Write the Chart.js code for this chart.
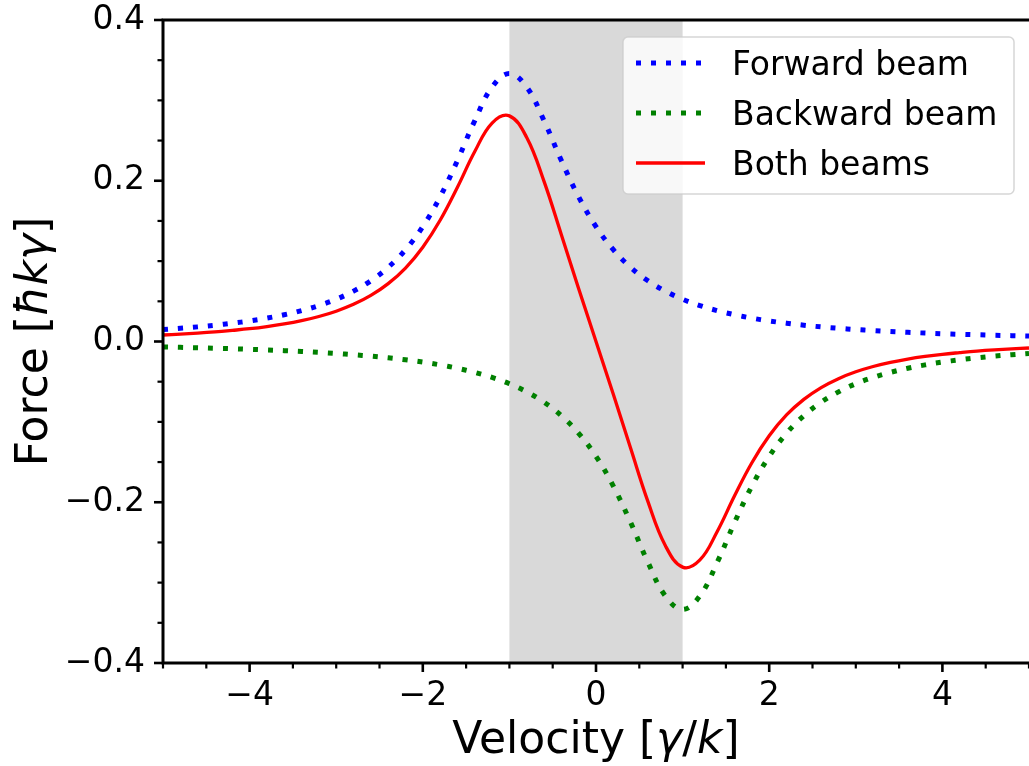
<!DOCTYPE html>
<html>
<head>
<meta charset="utf-8">
<title>Force vs velocity</title>
<script src="https://cdn.jsdelivr.net/npm/chart.js@4/dist/chart.umd.min.js"></script>
<style>
  html, body { margin: 0; padding: 0; background: #ffffff; overflow: hidden; }
  #chartWrap { width: 1029px; height: 766px; }
</style>
</head>
<body>
<div id="chartWrap"><canvas id="forceChart" width="1029" height="766"></canvas></div>
<script>
// ====================================
// DATA
// ====================================
const velocity = [
  -5, -4.8, -4.6, -4.4, -4.2, -4, -3.8, -3.6, -3.4, -3.2,
  -3, -2.8, -2.6, -2.4, -2.2, -2, -1.8, -1.6, -1.4, -1.2,
  -1, -0.8, -0.6, -0.4, -0.2, 0, 0.2, 0.4, 0.6, 0.8,
  1, 1.2, 1.4, 1.6, 1.8, 2, 2.2, 2.4, 2.6, 2.8,
  3, 3.2, 3.4, 3.6, 3.8, 4, 4.2, 4.4, 4.6, 4.8, 5
];
const forwardBeam = [
  0.0149, 0.0165, 0.0182, 0.0203, 0.0228, 0.0256, 0.0291, 0.0333, 0.0384, 0.0447,
  0.0526, 0.0627, 0.0755, 0.0923, 0.1142, 0.1429, 0.1799, 0.2252, 0.2747, 0.3165,
  0.3333, 0.3165, 0.2747, 0.2252, 0.1799, 0.1429, 0.1142, 0.0923, 0.0755, 0.0627,
  0.0526, 0.0447, 0.0384, 0.0333, 0.0291, 0.0256, 0.0228, 0.0203, 0.0182, 0.0165,
  0.0149, 0.0136, 0.0124, 0.0114, 0.0105, 0.0097, 0.0090, 0.0084, 0.0078, 0.0073, 0.0068
];
const backwardBeam = [
  -0.0068, -0.0073, -0.0078, -0.0084, -0.0090, -0.0097, -0.0105, -0.0114, -0.0124, -0.0136,
  -0.0149, -0.0165, -0.0182, -0.0203, -0.0228, -0.0256, -0.0291, -0.0333, -0.0384, -0.0447,
  -0.0526, -0.0627, -0.0755, -0.0923, -0.1142, -0.1429, -0.1799, -0.2252, -0.2747, -0.3165,
  -0.3333, -0.3165, -0.2747, -0.2252, -0.1799, -0.1429, -0.1142, -0.0923, -0.0755, -0.0627,
  -0.0526, -0.0447, -0.0384, -0.0333, -0.0291, -0.0256, -0.0228, -0.0203, -0.0182, -0.0165, -0.0149
];
const bothBeams = [
  0.0081, 0.0092, 0.0104, 0.0119, 0.0138, 0.0159, 0.0186, 0.0219, 0.0260, 0.0311,
  0.0377, 0.0462, 0.0573, 0.0720, 0.0914, 0.1173, 0.1508, 0.1919, 0.2363, 0.2718,
  0.2807, 0.2538, 0.1992, 0.1329, 0.0657, 0, -0.0657, -0.1329, -0.1992, -0.2538,
  -0.2807, -0.2718, -0.2363, -0.1919, -0.1508, -0.1173, -0.0914, -0.0720, -0.0573, -0.0462,
  -0.0377, -0.0311, -0.0260, -0.0219, -0.0186, -0.0159, -0.0138, -0.0119, -0.0104, -0.0092, -0.0081
];
const xMajorTicks = [-4, -2, 0, 2, 4];
const yMajorTicks = [-0.4, -0.2, 0, 0.2, 0.4];
const shadedBand = [-1, 1];

const FONT = "'DejaVu Sans', 'Liberation Sans', sans-serif";

function toPoints(values) {
  return velocity.map(function (v, i) {
    return { x: v, y: values[i] };
  });
}

function isMajor(value, majors) {
  return majors.some(function (m) {
    return Math.abs(m - value) < 1e-6;
  });
}

function fmt(value, digits) {
  const s = Math.abs(value).toFixed(digits);
  return value < -1e-9 ? "\u2212" + s : s;
}

// keep the plot box where the reference has it
function pinScale(size, isX) {
  return function (scale) {
    if (isX) scale.height = size;
    else scale.width = size;
    scale.paddingTop = 0;
    scale.paddingBottom = 0;
    scale.paddingLeft = 0;
    scale.paddingRight = 0;
  };
}

// ====================================
// DECORATIONS: band, spines, ticks, titles, legend
// ====================================
function drawRich(ctx, parts, x, y, size) {
  let total = 0;
  parts.forEach(function (p) {
    ctx.font = (p[1] ? "oblique " : "") + size + "px " + FONT;
    total += ctx.measureText(p[0]).width;
  });
  let cx = x - total / 2;
  ctx.textAlign = "left";
  ctx.textBaseline = "alphabetic";
  parts.forEach(function (p) {
    ctx.font = (p[1] ? "oblique " : "") + size + "px " + FONT;
    ctx.fillText(p[0], cx, y);
    cx += ctx.measureText(p[0]).width;
  });
}

const decorPlugin = {
  id: "decor",
  beforeDatasetsDraw(chart) {
    const { ctx, chartArea, scales } = chart;
    const x0 = scales.x.getPixelForValue(shadedBand[0]);
    const x1 = scales.x.getPixelForValue(shadedBand[1]);
    ctx.save();
    ctx.fillStyle = "#d9d9d9";
    ctx.fillRect(x0, chartArea.top, x1 - x0, chartArea.bottom - chartArea.top);
    ctx.restore();
  },
  afterDraw(chart) {
    const { ctx, chartArea, scales } = chart;
    const { left, right, top, bottom } = chartArea;
    ctx.save();

    // spines (right one falls off the canvas in the reference)
    ctx.strokeStyle = "#000000";
    ctx.lineWidth = 3;
    ctx.lineCap = "square";
    ctx.beginPath();
    ctx.moveTo(right + 4, top);
    ctx.lineTo(left, top);
    ctx.lineTo(left, bottom);
    ctx.lineTo(right + 4, bottom);
    ctx.stroke();

    // tick marks, major and minor
    ctx.lineCap = "butt";
    scales.x.ticks.forEach(function (t) {
      const px = scales.x.getPixelForValue(t.value);
      const major = isMajor(t.value, xMajorTicks);
      ctx.lineWidth = major ? 2.6 : 2.2;
      ctx.beginPath();
      ctx.moveTo(px, bottom);
      ctx.lineTo(px, bottom + (major ? 9 : 5.5));
      ctx.stroke();
    });
    scales.y.ticks.forEach(function (t) {
      const py = scales.y.getPixelForValue(t.value);
      const major = isMajor(t.value, yMajorTicks);
      ctx.lineWidth = major ? 2.6 : 2.2;
      ctx.beginPath();
      ctx.moveTo(left, py);
      ctx.lineTo(left - (major ? 9 : 5.5), py);
      ctx.stroke();
    });

    // axis titles
    ctx.fillStyle = "#000000";
    drawRich(ctx, [["Velocity [", false], ["\u03b3", true], ["/", false], ["k", true], ["]", false]],
      (left + right) / 2, 753, 44);
    ctx.save();
    ctx.translate(47, (top + bottom) / 2);
    ctx.rotate(-Math.PI / 2);
    drawRich(ctx, [["Force [", false], ["\u0127k\u03b3", true], ["]", false]], 0, 0, 44);
    ctx.restore();

    // legend
    const lx = 623, ly = 37, lw = 391, lh = 157, r = 5;
    ctx.beginPath();
    ctx.moveTo(lx + r, ly);
    ctx.arcTo(lx + lw, ly, lx + lw, ly + lh, r);
    ctx.arcTo(lx + lw, ly + lh, lx, ly + lh, r);
    ctx.arcTo(lx, ly + lh, lx, ly, r);
    ctx.arcTo(lx, ly, lx + lw, ly, r);
    ctx.closePath();
    ctx.fillStyle = "rgba(255,255,255,0.8)";
    ctx.fill();
    ctx.strokeStyle = "rgba(204,204,204,0.8)";
    ctx.lineWidth = 1.5;
    ctx.stroke();

    const rowsY = [63, 113, 163];
    ctx.font = "33px " + FONT;
    ctx.textAlign = "left";
    ctx.textBaseline = "alphabetic";
    chart.data.datasets.forEach(function (ds, i) {
      const y = rowsY[i];
      ctx.strokeStyle = ds.borderColor;
      ctx.lineWidth = ds.borderWidth;
      ctx.setLineDash(ds.borderDash || []);
      ctx.beginPath();
      ctx.moveTo(636, y);
      ctx.lineTo(705, y);
      ctx.stroke();
      ctx.setLineDash([]);
      ctx.fillStyle = "#000000";
      ctx.fillText(ds.label, 732, y + 12);
    });

    ctx.restore();
  },
};

// ====================================
// CHART
// ====================================
const ctx = document.getElementById("forceChart").getContext("2d");
new Chart(ctx, {
  type: "line",
  data: {
    datasets: [
      {
        label: "Forward beam",
        data: toPoints(forwardBeam),
        borderColor: "#0000ff",
        borderWidth: 5,
        borderDash: [5, 10],
        borderCapStyle: "butt",
        pointRadius: 0,
        tension: 0.4,
        order: 3,
      },
      {
        label: "Backward beam",
        data: toPoints(backwardBeam),
        borderColor: "#008000",
        borderWidth: 5,
        borderDash: [5, 10],
        borderCapStyle: "butt",
        pointRadius: 0,
        tension: 0.4,
        order: 2,
      },
      {
        label: "Both beams",
        data: toPoints(bothBeams),
        borderColor: "#ff0000",
        borderWidth: 3.3,
        pointRadius: 0,
        tension: 0.4,
        order: 1,
      },
    ],
  },
  options: {
    responsive: false,
    animation: false,
    layout: { padding: { top: 20, right: 0, left: 0, bottom: 0 } },
    plugins: {
      legend: { display: false },
      tooltip: { enabled: false },
    },
    scales: {
      x: {
        type: "linear",
        min: -5,
        max: 5,
        afterFit: pinScale(103, true),
        grid: { display: false, drawTicks: false },
        border: { display: false },
        ticks: {
          stepSize: 0.5,
          autoSkip: false,
          maxRotation: 0,
          padding: 14,
          color: "#000000",
          font: { family: FONT, size: 33 },
          callback: function (value) {
            return isMajor(value, xMajorTicks) ? fmt(value, 0) : "";
          },
        },
      },
      y: {
        type: "linear",
        min: -0.4,
        max: 0.4,
        afterFit: pinScale(163, false),
        grid: { display: false, drawTicks: false },
        border: { display: false },
        ticks: {
          stepSize: 0.05,
          autoSkip: false,
          padding: 18,
          color: "#000000",
          font: { family: FONT, size: 33 },
          callback: function (value) {
            return isMajor(value, yMajorTicks) ? fmt(value, 1) : "";
          },
        },
      },
    },
  },
  plugins: [decorPlugin],
});
</script>
</body>
</html>
